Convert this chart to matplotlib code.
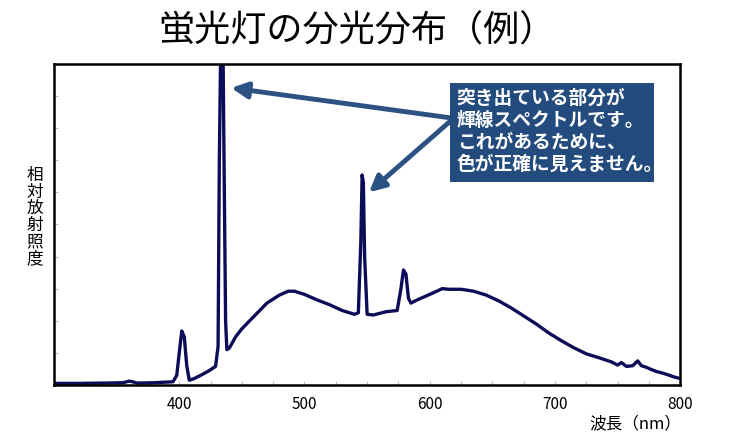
import matplotlib
matplotlib.use("Agg")
import matplotlib.pyplot as plt
from matplotlib.patches import Rectangle

plt.rcParams['font.family'] = ['Noto Sans CJK JP', 'DejaVu Sans']

# --- spectrum (wavelength nm, relative irradiance 0..1) ---
wavelength = [300, 320, 340, 355, 360, 363, 366, 380, 395, 398, 400, 402, 404, 406,
              408, 412, 418, 424, 429, 431, 432, 433, 435, 436, 437, 438, 440, 445,
              450, 460, 470, 480, 487, 492, 500, 510, 520, 530, 540, 543, 545, 546,
              547, 548, 550, 555, 565, 574, 577, 579, 581, 583, 585, 590, 600, 610,
              615, 625, 635, 645, 655, 665, 675, 685, 695, 705, 715, 725, 735, 745,
              750, 753, 757, 762, 766, 769, 773, 777, 781, 785, 790, 795, 800]
irradiance = [0.005, 0.005, 0.006, 0.007, 0.012, 0.010, 0.006, 0.007, 0.010, 0.030,
              0.100, 0.168, 0.150, 0.060, 0.015, 0.020, 0.032, 0.045, 0.058, 0.120,
              0.700, 1.020, 1.020, 0.600, 0.200, 0.110, 0.115, 0.150, 0.175, 0.215,
              0.255, 0.280, 0.292, 0.292, 0.282, 0.265, 0.250, 0.232, 0.220, 0.225,
              0.450, 0.654, 0.630, 0.400, 0.220, 0.218, 0.228, 0.232, 0.300, 0.358,
              0.345, 0.270, 0.255, 0.265, 0.282, 0.300, 0.298, 0.298, 0.292, 0.280,
              0.262, 0.240, 0.215, 0.190, 0.162, 0.138, 0.116, 0.097, 0.085, 0.072,
              0.062, 0.070, 0.058, 0.060, 0.075, 0.060, 0.055, 0.048, 0.042, 0.038,
              0.032, 0.025, 0.020]

x_ticks = [400, 500, 600, 700, 800]
title = "蛍光灯の分光分布（例）"
y_label = "相対放射照度"
x_label = "波長（nm）"
note = "突き出ている部分が\n輝線スペクトルです。\nこれがあるために、\n色が正確に見えません。"

line_color = "#0c0c58"
box_color = "#234b7d"
arrow_color = "#2b5283"

fig = plt.figure(figsize=(7.5, 4.37), dpi=100)
ax = fig.add_axes([0.072, 0.119, 0.835, 0.735])

ax.plot(wavelength, irradiance, color=line_color, lw=2.4, solid_joinstyle='round')
ax.set_xlim(300, 800)
ax.set_ylim(0, 1)

ax.set_xticks(x_ticks)
ax.set_xticklabels([str(t) for t in x_ticks], fontsize=11)
ax.set_xticks(range(325, 800, 25), minor=True)
ax.set_yticks([i / 10 for i in range(1, 10)])
ax.set_yticklabels([])
ax.tick_params(axis='both', which='both', direction='in', length=3,
               color='#bbbbbb', width=0.8, pad=8)
for s in ax.spines.values():
    s.set_linewidth(1.8)
    s.set_color('black')

# axis labels
fig.text(0.476, 0.927, title, ha='center', va='center', fontsize=26)
fig.text(0.046, 0.503, "\n".join(y_label), ha='center', va='center',
         fontsize=12, linespacing=0.97)
fig.text(0.909, 0.030, x_label, ha='right', va='center', fontsize=12)

# note box
ax.add_patch(Rectangle((0.633, 0.632), 0.325, 0.309, transform=ax.transAxes,
                       facecolor=box_color, edgecolor='none', zorder=4))
ax.text(0.643, 0.921, note, transform=ax.transAxes, ha='left', va='top',
        color='white', fontsize=13.5, fontweight='bold', linespacing=1.2, zorder=5)

# arrows from the box to the emission lines
for tip, tail in [((441.5, 0.925), (616, 0.832)), ((551.5, 0.600), (616, 0.820))]:
    ax.annotate("", xy=tip, xytext=tail,
                arrowprops=dict(arrowstyle='-|>', color=arrow_color, lw=3.5,
                                mutation_scale=24, shrinkA=0, shrinkB=0),
                zorder=3)

fig.savefig("out.png", dpi=100)
